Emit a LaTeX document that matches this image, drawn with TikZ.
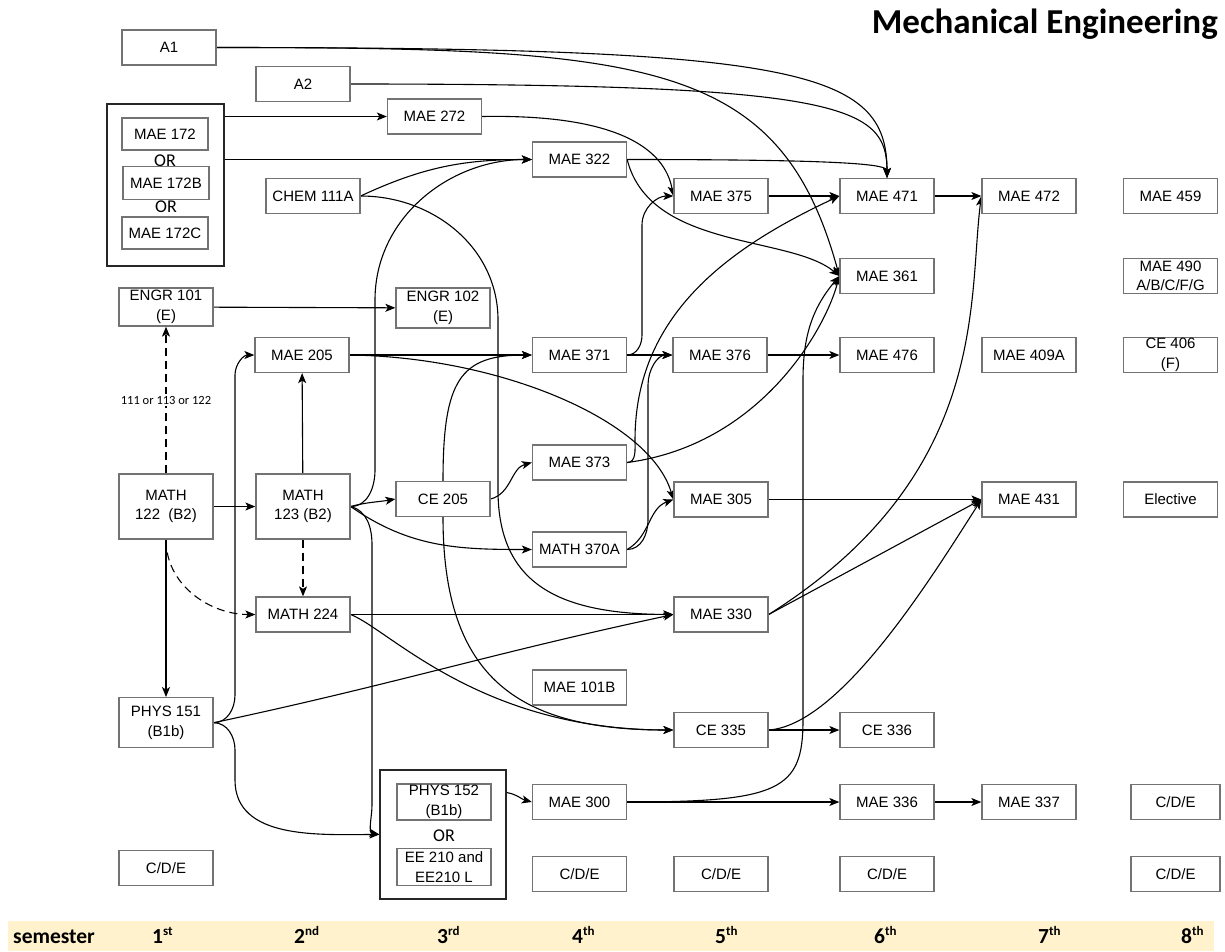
\documentclass[tikz,border=0pt]{standalone}
\usepackage{fontspec}
\setmainfont{Liberation Sans}
\newfontfamily\calfont{Carlito}
\usetikzlibrary{positioning}
\usetikzlibrary{arrows.meta}
\usetikzlibrary{backgrounds}
\definecolor{sembar}{HTML}{FFF2CC}
\newcommand{\boxfont}{\fontsize{15}{19.5}\selectfont}
\newcommand{\ord}[2]{#1\raisebox{8pt}{\fontsize{13}{13}\selectfont #2}}

\tikzset{
  course/.style={draw=black!55,line width=1.3pt,fill=white,minimum width=94pt,
    minimum height=35pt,inner sep=0pt,align=center,font=\boxfont},
  orbox/.style={draw=black!85,line width=1.2pt,fill=white,inner sep=0pt},
  ortext/.style={inner sep=0pt,font=\calfont\fontsize{18}{20}\selectfont},
  alt/.style={fill=white,inner sep=2pt,font=\calfont\fontsize{12.5}{14}\selectfont},
  sem/.style={anchor=base west,inner sep=0pt,font=\calfont\bfseries\fontsize{21.5}{24}\selectfont},
  pre/.style={-{Stealth[length=10pt,width=8pt,inset=2.5pt]},line width=1.1pt},
  maybe/.style={pre,dash pattern=on 8pt off 5pt}
}

\begin{document}
\begin{tikzpicture}[x=1pt,y=1pt]
\useasboundingbox (0,0) rectangle (1225,-951);

\node[anchor=base east,inner sep=0pt,font=\calfont\bfseries\fontsize{35}{38}\selectfont]
  (title) at (1218,-33) {Mechanical Engineering};

% 1st semester
\node[course] (a1) at (169,-47.5) {A1};
\node[orbox,minimum width=117pt,minimum height=162pt] (g172) at (165.5,-185) {};
\node[course,minimum width=86pt,minimum height=32pt] (mae172) at (165,-134) {MAE 172};
\node[ortext] (or1) at (165,-160.5) {OR};
\node[course,minimum width=86pt,minimum height=33pt] (mae172b) at (166,-183) {MAE 172B};
\node[ortext] (or2) at (166,-207) {OR};
\node[course,minimum width=86pt,minimum height=32pt] (mae172c) at (165,-233) {MAE 172C};
\node[course,minimum height=38pt] (engr101) at (166,-307) {ENGR 101\\(E)};
\node[course,minimum height=65pt] (math122) at (166,-506.5) {MATH\\122~~(B2)};
\node[course,minimum height=50pt] (phys151) at (166,-722.7) {PHYS 151\\(B1b)};
\node[course] (cde1) at (166,-868) {C/D/E};

% 2nd semester
\node[course] (a2) at (303,-84) {A2};
\node[course] (chem) at (313,-196) {CHEM 111A};
\node[course] (mae205) at (302,-355) {MAE 205};
\node[course,minimum height=65pt] (math123) at (303,-506.5) {MATH\\123 (B2)};
\node[course] (math224) at (303,-614.5) {MATH 224};

% 3rd semester
\node[course] (mae272) at (434.5,-116.5) {MAE 272};
\node[course,minimum height=40pt] (engr102) at (443,-308) {ENGR 102\\(E)};
\node[course] (ce205) at (443,-499) {CE 205};
\node[orbox,minimum width=126pt,minimum height=129pt] (grp152) at (443,-834.5) {};
\node[course,minimum height=36pt] (phys152) at (444,-802) {PHYS 152\\(B1b)};
\node[ortext] (or3) at (444,-836) {OR};
\node[course,minimum height=37pt] (ee210) at (444,-867.3) {EE 210 and\\EE210 L};

% 4th semester
\node[course] (mae322) at (579.5,-159.5) {MAE 322};
\node[course] (mae371) at (579.5,-355) {MAE 371};
\node[course] (mae373) at (579.5,-462.5) {MAE 373};
\node[course] (math370a) at (579.5,-549.5) {MATH 370A};
\node[course] (mae101b) at (579.5,-687.5) {MAE 101B};
\node[course] (mae300) at (579.5,-802) {MAE 300};
\node[course] (cde4) at (579.5,-874) {C/D/E};

% 5th semester
\node[course] (mae375) at (721,-196) {MAE 375};
\node[course] (mae376) at (720,-355) {MAE 376};
\node[course] (mae305) at (721,-499.5) {MAE 305};
\node[course] (mae330) at (721,-614.5) {MAE 330};
\node[course] (ce335) at (721,-730) {CE 335};
\node[course] (cde5) at (721,-874) {C/D/E};

% 6th semester
\node[course] (mae471) at (887,-196) {MAE 471};
\node[course] (mae361) at (887,-276) {MAE 361};
\node[course] (mae476) at (887,-355) {MAE 476};
\node[course] (ce336) at (887,-730) {CE 336};
\node[course] (mae336) at (887,-802) {MAE 336};
\node[course] (cde6) at (887,-874) {C/D/E};

% 7th semester
\node[course] (mae472) at (1029,-196) {MAE 472};
\node[course] (mae409a) at (1029,-355) {MAE 409A};
\node[course] (mae431) at (1029,-499.5) {MAE 431};
\node[course] (mae337) at (1029,-802) {MAE 337};

% 8th semester
\node[course] (mae459) at (1170.5,-196) {MAE 459};
\node[course] (mae490) at (1170.5,-276) {MAE 490\\A/B/C/F/G};
\node[course] (ce406) at (1170.5,-355) {CE 406\\(F)};
\node[course] (elective) at (1170.5,-499.5) {Elective};
\node[course,minimum width=89pt] (cde8a) at (1175.5,-802) {C/D/E};
\node[course,minimum width=89pt] (cde8b) at (1175.5,-874) {C/D/E};

\begin{scope}[on background layer]
\path[pre] (g172.east |- mae272.west) edge (mae272.west)
           (g172.east |- mae322.west) edge (mae322.west)
           (engr101) edge (engr102)
           (math122) edge (math123)
           (math123) edge (mae205)
           (math122) edge (phys151)
           (mae205) edge (mae371.west)
           (math224) edge (mae330.west)
           (mae371) edge (mae376.west)
           (mae375) edge (mae471.west)
           (mae376) edge (mae476)
           (mae471) edge (mae472.west)
           (mae305) edge (mae431.west)
           (mae330.east) edge (mae431.west)
           (ce335) edge (ce336)
           (mae300) edge (mae336)
           (mae336) edge (mae337);
\path[maybe] (math122) edge node[alt] (lbl) {111 or 113 or 122} (engr101)
             (math123) edge (math224)
             (math122.south) edge[out=-90,in=180] (math224.west);

\draw[pre] (a1.east) .. controls (800,-47.5) and (887,-70) .. (mae471.north);
\draw[pre] (a1.east) .. controls (650,-47.5) and (780,-60) .. (mae361.west);
\draw[pre] (a2.east) .. controls (840,-84) and (887,-105) .. (mae471.north);
\draw[pre] (mae322.east) .. controls (860,-159.5) and (887,-165) .. (mae471.north);
\draw[pre] (mae272.east) .. controls (620,-114) and (665,-150) .. (mae375.west);
\draw[pre] (mae322.east) .. controls (650,-250) and (790,-235) .. (mae361.west);
\draw[pre] (chem.east) to[out=25,in=180] (mae322.west);
\draw[pre] (chem.east) to[out=0,in=90] (498,-320) -- (498,-490)
  .. controls (498,-585) and (560,-614) .. (mae330.west);

\draw[pre] (math123.east) to[out=0,in=-90] (375,-470) -- (375,-300)
  to[out=90,in=180] (mae322.west);
\draw[pre] (math123.east) to[out=15,in=190] (ce205.west);
\draw[pre] (math123.east) to[out=-35,in=180] (math370a.west);
\draw[pre] (math123.east) to[out=-15,in=90] (372,-545) -- (372,-805)
  to[out=-90,in=170] (grp152.west);

\draw[pre] (mae205.east) .. controls (500,-357) and (650,-420) .. (mae305.west);
\draw[pre] (phys151.east) to[out=0,in=-90] (235,-695) -- (235,-375)
  to[out=90,in=180] (mae205.west);
\draw[pre] (phys151.east) to[out=12,in=192] (mae330.west);
\draw[pre] (phys151.east) to[out=0,in=90] (235,-750) -- (235,-780)
  .. controls (235,-840) and (320,-834.5) .. (grp152.west);
\draw[pre] (math224.east) .. controls (390,-630) and (480,-730) .. (ce335.west);

\draw[pre] (ce205.east) to[out=15,in=195] (mae373.west);
\draw[pre] (ce205.north) .. controls (443,-380) and (460,-355) .. (mae371.west);
\draw[pre] (ce205.south) .. controls (443,-680) and (520,-730) .. (ce335.west);

\draw[pre] (mae371.east) to[out=0,in=-90] (642,-335) -- (642,-225)
  to[out=90,in=180] (mae375.west);
\draw[pre] (mae373.east) to[out=0,in=-90] (635,-440) to[out=90,in=205] (mae471.west);
\draw[pre] (mae373.east) .. controls (760,-445) and (825,-330) .. (mae361.west);
\draw[pre] (math370a.east) to[out=0,in=-90] (648,-520) -- (648,-385)
  to[out=90,in=180] (mae376.west);
\draw[pre] (math370a.east) to[out=30,in=200] (mae305.west);

\draw[pre] (mae330.east) .. controls (990,-475) and (968,-300) .. (mae472.west);
\draw[pre] (ce335.east) .. controls (840,-725) and (930,-580) .. (mae431.west);
\draw[pre] (mae300.east) .. controls (780,-802) and (803,-790) .. (803,-720) -- (803,-380)
  to[out=90,in=230] (mae361.west);
\draw[pre] ([yshift=42pt]grp152.east) to[out=-10,in=165] (mae300.west);
\end{scope}

% semester bar
\fill[sembar] (8,-921) rectangle (1214,-951);
\node[sem] (semester) at (13,-943) {semester};
\node[sem] (s1) at (152,-943) {\ord{1}{st}};
\node[sem] (s2) at (294,-943) {\ord{2}{nd}};
\node[sem] (s3) at (437,-943) {\ord{3}{rd}};
\node[sem] (s4) at (572,-943) {\ord{4}{th}};
\node[sem] (s5) at (715,-943) {\ord{5}{th}};
\node[sem] (s6) at (874,-943) {\ord{6}{th}};
\node[sem] (s7) at (1038,-943) {\ord{7}{th}};
\node[sem] (s8) at (1181,-943) {\ord{8}{th}};
\end{tikzpicture}
\end{document}
